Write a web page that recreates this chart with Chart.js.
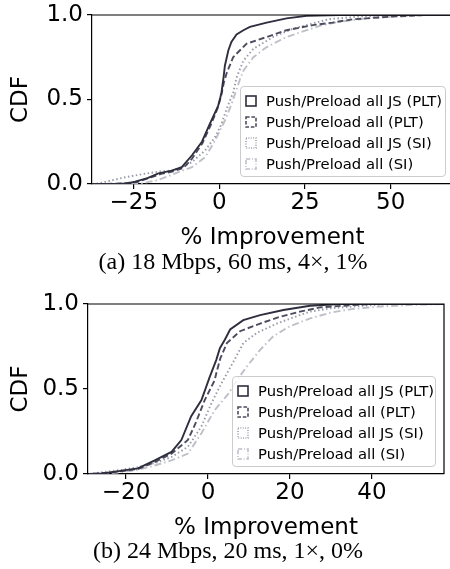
<!DOCTYPE html>
<html><head><meta charset="utf-8">
<script src="https://cdn.jsdelivr.net/npm/chart.js@4.4.1/dist/chart.umd.min.js"></script>
<style>
html,body{margin:0;padding:0;background:#fff;}
body{width:450px;height:569px;overflow:hidden;position:relative;}
.wrap{position:absolute;left:0;}
.cap{position:absolute;font-family:"Liberation Serif","Times New Roman",serif;font-size:24px;color:#000;white-space:nowrap;transform:translateX(-50%);line-height:1;}
.legend{position:absolute;border:1px solid #cccccc;border-radius:4px;background:rgba(255,255,255,0.8);font-family:"DejaVu Sans",sans-serif;font-size:14.8px;color:#000;box-sizing:border-box;}
.row{position:absolute;left:4px;height:21px;display:flex;align-items:center;white-space:nowrap;}
.row svg{margin-right:9px;}
</style>
</head><body>
<div class="wrap" style="top:0px"><canvas id="cA" width="460" height="270" style="width:460px;height:270px"></canvas></div>
<div class="cap" style="left:233px;top:249px">(a) 18 Mbps, 60 ms, 4×, 1%</div>
<div class="legend" id="legA" style="left:240px;top:86px;width:206px;height:91px"></div>

<div class="wrap" style="top:280px"><canvas id="cB" width="450" height="270" style="width:450px;height:270px"></canvas></div>
<div class="cap" style="left:228px;top:538px">(b) 24 Mbps, 20 ms, 1×, 0%</div>
<div class="legend" id="legB" style="left:232px;top:376px;width:204px;height:91px"></div>

<script>
// ---------- data ----------
const seriesLabels = ['Push/Preload all JS (PLT)', 'Push/Preload all (PLT)', 'Push/Preload all JS (SI)', 'Push/Preload all (SI)'];
const yTicks = [0, 0.5, 1];
const aXTicks = [-25, 0, 25, 50];
const bXTicks = [-20, 0, 20, 40];

// (a) 18 Mbps, 60 ms
const aJsPltX = [-37, -30, -27, -24.6, -21, -17.8, -13.9, -11, -8, -5.1, -2.7, -0.4, 0.25, 0.6, 1.2, 1.6, 2.6, 3.5, 5.0, 7, 8.9, 13.8, 19.6, 25.5, 35, 68];
const aJsPltY = [0, 0, 0.003, 0.014, 0.035, 0.063, 0.079, 0.10, 0.17, 0.25, 0.36, 0.46, 0.51, 0.54, 0.63, 0.70, 0.79, 0.84, 0.885, 0.91, 0.93, 0.955, 0.98, 0.995, 1, 1];
const aAllPltX = [-33, -28, -24, -20, -17, -13.5, -10.5, -8, -5, -2.5, -0.5, 0.5, 1.3, 2.1, 4.0, 7.9, 13.8, 19.6, 23.5, 27.3, 33, 39, 43, 50, 60, 68];
const aAllPltY = [0, 0.004, 0.012, 0.04, 0.06, 0.075, 0.095, 0.15, 0.24, 0.35, 0.45, 0.52, 0.60, 0.655, 0.75, 0.83, 0.87, 0.91, 0.925, 0.94, 0.955, 0.975, 0.98, 0.99, 1, 1];
const aJsSiX = [-37, -35, -27.5, -22, -17.8, -13.9, -11, -8, -4.1, -1.2, 0.5, 1.7, 3, 4.0, 5.0, 7.0, 9.9, 15.7, 21.6, 27.3, 32, 40, 50, 68];
const aJsSiY = [0, 0.005, 0.04, 0.06, 0.073, 0.08, 0.10, 0.13, 0.20, 0.28, 0.35, 0.42, 0.49, 0.54, 0.63, 0.73, 0.80, 0.87, 0.92, 0.95, 0.975, 0.99, 1, 1];
const aAllSiX = [-30, -22.6, -17.8, -12.9, -8, -4.1, -1.2, 1.7, 3.5, 5.0, 6, 7.0, 9.9, 13.8, 19.6, 25.5, 30, 35, 45, 55, 62, 68];
const aAllSiY = [0, 0.004, 0.024, 0.063, 0.10, 0.16, 0.26, 0.38, 0.47, 0.56, 0.62, 0.67, 0.75, 0.81, 0.87, 0.91, 0.94, 0.96, 0.985, 0.995, 1, 1];

// (b) 24 Mbps, 20 ms
const bJsPltX = [-29, -26, -24.4, -17.1, -13, -8.9, -6.5, -4.1, -1.6, 0.4, 2.0, 2.9, 4.1, 5.4, 8.6, 12.7, 18.4, 24.9, 32, 58];
const bJsPltY = [0, 0.003, 0.008, 0.033, 0.08, 0.13, 0.20, 0.34, 0.435, 0.57, 0.67, 0.74, 0.79, 0.85, 0.905, 0.935, 0.965, 0.99, 1, 1];
const bAllPltX = [-28, -24, -17, -13, -8.9, -4.9, -3, -0.8, 1.6, 2.1, 3.0, 4.6, 7.8, 12.7, 17.6, 22.4, 27.3, 33, 40, 58];
const bAllPltY = [0, 0.008, 0.03, 0.07, 0.12, 0.20, 0.30, 0.435, 0.55, 0.60, 0.68, 0.77, 0.84, 0.885, 0.925, 0.955, 0.98, 0.99, 1, 1];
const bJsSiX = [-29, -25, -21, -17.1, -13, -8.9, -4.9, -1.6, 0.8, 3.2, 6.2, 8.6, 11.9, 16.8, 22.4, 24.9, 30, 38, 45, 58];
const bJsSiY = [0, 0.013, 0.025, 0.04, 0.065, 0.10, 0.16, 0.28, 0.415, 0.53, 0.66, 0.77, 0.83, 0.885, 0.935, 0.955, 0.975, 0.99, 1, 1];
const bAllSiX = [-27, -22, -17, -13, -8.9, -4.9, -1.6, 1.6, 4.9, 7.0, 9.4, 12.7, 15.9, 20, 24.9, 30, 35, 42, 50, 58];
const bAllSiY = [0, 0.008, 0.025, 0.05, 0.08, 0.12, 0.24, 0.375, 0.47, 0.55, 0.63, 0.73, 0.81, 0.87, 0.915, 0.95, 0.97, 0.985, 0.995, 1];

// ---------- styles ----------
const colors = ['#2e2e3e', '#4c4c5e', '#9a9aa8', '#bfbfc8'];
const dashes = [[], [6, 3], [1.5, 2.5], [7, 3, 1.5, 3]];
const widths = [1.9, 1.9, 1.9, 1.9];
const SANS = '"DejaVu Sans", sans-serif';
const TICK_FONT = 23;
const TITLE_FONT = 23;

function pts(xs, ys) { return xs.map((x, i) => ({x: x, y: ys[i]})); }

const spines = {
  id: 'spines',
  afterDraw(chart) {
    const {ctx, chartArea: a} = chart;
    ctx.save();
    ctx.strokeStyle = '#000';
    ctx.lineWidth = 1.2;
    ctx.beginPath();
    ctx.moveTo(a.left, a.top); ctx.lineTo(a.right, a.top); ctx.lineTo(a.right, a.bottom);
    ctx.stroke();
    ctx.restore();
  }
};

function makeChart(id, seriesX, seriesY, xTicks, xMin, xMax, area, H, xTitleCenter) {
  const datasets = seriesX.map((xs, i) => ({
    label: seriesLabels[i],
    data: pts(xs, seriesY[i]),
    borderColor: colors[i],
    borderDash: dashes[i],
    borderWidth: widths[i],
    pointRadius: 0,
    tension: 0,
    fill: false
  }));
  const lh = TITLE_FONT * 1.2;
  return new Chart(document.getElementById(id), {
    type: 'line',
    data: {datasets},
    plugins: [spines],
    options: {
      responsive: false,
      animation: false,
      events: [],
      layout: {padding: {left: 0, top: area.top, right: area.rightPad, bottom: 0}},
      plugins: {legend: {display: false}, tooltip: {enabled: false}},
      scales: {
        x: {
          type: 'linear', min: xMin, max: xMax,
          afterBuildTicks: s => { s.ticks = xTicks.map(v => ({value: v})); },
          afterFit: s => { s.height = H - area.bottom; s.paddingLeft = 0; s.paddingRight = 0; },
          ticks: {
            includeBounds: false, autoSkip: false, maxRotation: 0,
            color: '#000', padding: 0,
            font: {family: SANS, size: TICK_FONT},
            callback: v => v < 0 ? '\u2212' + Math.abs(v) : String(v)
          },
          grid: {drawOnChartArea: false, drawTicks: true, tickLength: 5, color: '#000', lineWidth: 1.2},
          border: {display: true, color: '#000', width: 1.2},
          title: {display: true, text: '% Improvement', color: '#000',
                  font: {family: SANS, size: TITLE_FONT},
                  padding: {top: 0, bottom: H - xTitleCenter - lh / 2}}
        },
        y: {
          type: 'linear', min: 0, max: 1,
          afterBuildTicks: s => { s.ticks = yTicks.map(v => ({value: v})); },
          afterFit: s => { s.width = area.left; s.paddingTop = 0; s.paddingBottom = 0; },
          ticks: {
            color: '#000', padding: 4,
            font: {family: SANS, size: TICK_FONT},
            callback: v => Number(v).toFixed(1)
          },
          grid: {drawOnChartArea: false, drawTicks: true, tickLength: 5, color: '#000', lineWidth: 1.2},
          border: {display: true, color: '#000', width: 1.2},
          title: {display: true, text: 'CDF', color: '#000',
                  font: {family: SANS, size: TITLE_FONT},
                  padding: {top: 7.5, bottom: 0}}
        }
      }
    }
  });
}

makeChart('cA', [aJsPltX, aAllPltX, aJsSiX, aAllSiX], [aJsPltY, aAllPltY, aJsSiY, aAllSiY],
  aXTicks, -37.2, 68.2, {left: 92, top: 15, bottom: 184, rightPad: 7}, 270, 238.5);
makeChart('cB', [bJsPltX, bAllPltX, bJsSiX, bAllSiX], [bJsPltY, bAllPltY, bJsSiY, bAllSiY],
  bXTicks, -29.27, 57.56, {left: 88, top: 24, bottom: 194, rightPad: 6}, 270, 248);

function buildLegend(id) {
  const el = document.getElementById(id);
  seriesLabels.forEach((lab, i) => {
    const row = document.createElement('div');
    row.className = 'row';
    row.style.top = (3 + i * 21) + 'px';
    const da = dashes[i].length ? dashes[i].map(d => d * 0.6).join(' ') : 'none';
    row.innerHTML = '<svg width="12" height="12" viewBox="0 0 12 12"><rect x="1" y="1" width="10" height="10" fill="none" stroke="' +
      colors[i] + '" stroke-width="1.6" stroke-dasharray="' + da + '"/></svg><span></span>';
    row.querySelector('span').textContent = lab;
    el.appendChild(row);
  });
}
buildLegend('legA');
buildLegend('legB');
</script>
</body></html>
